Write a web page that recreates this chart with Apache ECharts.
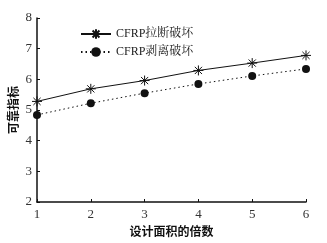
<!DOCTYPE html>
<html><head><meta charset="utf-8">
<script src="https://cdn.jsdelivr.net/npm/echarts@6/dist/echarts.min.js"></script>
<style>html,body{margin:0;padding:0;background:#fff}#c{width:327px;height:243px}</style>
</head><body><div id="c"></div>
<script>
const multiples = [1, 2, 3, 4, 5, 6];
const ruptureValues = [5.28, 5.69, 5.96, 6.29, 6.53, 6.78];
const debondValues = [4.84, 5.22, 5.55, 5.85, 6.11, 6.34];
const seriesNames = ['CFRP拉断破坏', 'CFRP剥离破坏'];
const yTicks = [2, 3, 4, 5, 6, 7, 8];

const serif = "'Liberation Serif','Noto Serif CJK SC','Noto Sans CJK SC',serif";
const bold = "'Noto Sans CJK SC',sans-serif";
const star = 'path://M0,-5L0,5M-5,0L5,0M-3.6,-3.6L3.6,3.6M-3.6,3.6L3.6,-3.6';

const chart = echarts.init(document.getElementById('c'), null, {renderer: 'canvas'});
chart.setOption({
  animation: false,
  backgroundColor: '#fff',
  grid: {left: 37, right: 21, top: 18, bottom: 41, containLabel: false, outerBoundsMode: 'none'},
  legend: {
    left: 75, top: 23, orient: 'vertical', itemWidth: 30, itemHeight: 12, itemGap: 6,
    textStyle: {fontFamily: serif, fontSize: 12, color: '#222'},
    data: seriesNames
  },
  xAxis: {
    type: 'value', min: 1, max: 6, interval: 1,
    name: '设计面积的倍数', nameLocation: 'middle', nameGap: 23,
    nameTextStyle: {fontFamily: bold, fontWeight: 'bold', fontSize: 12, color: '#111'},
    axisLine: {lineStyle: {color: '#111', width: 1.5}},
    axisTick: {inside: true, length: 3, lineStyle: {color: '#111'}},
    axisLabel: {fontFamily: serif, fontSize: 13, color: '#333', margin: 6},
    splitLine: {show: false}
  },
  yAxis: {
    type: 'value', min: yTicks[0], max: yTicks[yTicks.length - 1], interval: 1,
    name: '可靠指标', nameLocation: 'middle', nameGap: 18, nameRotate: 90, nameMoveOverlap: false,
    nameTextStyle: {fontFamily: bold, fontWeight: 'bold', fontSize: 12, color: '#111'},
    axisLine: {show: true, lineStyle: {color: '#111', width: 1.5}},
    axisTick: {show: true, inside: true, length: 3, lineStyle: {color: '#111'}},
    axisLabel: {fontFamily: serif, fontSize: 13, color: '#333', margin: 5},
    splitLine: {show: false}
  },
  series: [
    {
      name: seriesNames[0], type: 'line',
      data: multiples.map((x, i) => [x, ruptureValues[i]]),
      symbol: star, symbolSize: 10,
      itemStyle: {color: 'transparent', borderColor: '#111', borderWidth: 1},
      lineStyle: {color: '#111', width: 1}
    },
    {
      name: seriesNames[1], type: 'line',
      data: multiples.map((x, i) => [x, debondValues[i]]),
      symbol: 'circle', symbolSize: 8,
      itemStyle: {color: '#111'},
      lineStyle: {color: '#111', width: 1, type: [1.5, 3]}
    }
  ]
});
</script></body></html>
